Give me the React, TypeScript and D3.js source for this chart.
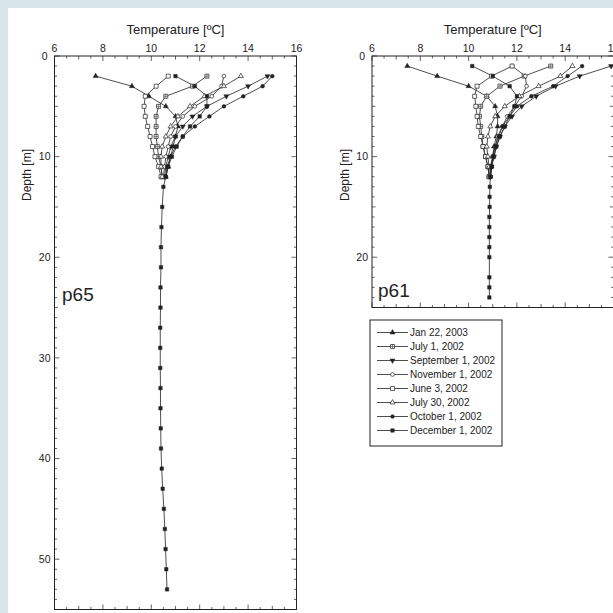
import React from "react";
import * as d3 from "d3";

// ---------- data ----------
const seriesNames = [
  "Jan 22, 2003",
  "July 1, 2002",
  "September 1, 2002",
  "November 1, 2002",
  "June 3, 2002",
  "July 30, 2002",
  "October 1, 2002",
  "December 1, 2002",
];
const seriesMarkers = [
  "triUpFilled",
  "squarePlus",
  "triDownFilled",
  "circleOpen",
  "squareOpen",
  "triUpOpen",
  "circleFilled",
  "squareFilled",
];

const tempTicks = [6, 8, 10, 12, 14, 16];
const p65DepthTicks = [0, 10, 20, 30, 40, 50];
const p61DepthTicks = [0, 10, 20];

// p65 profiles (depth 2..12 m)
const p65Depths = [2, 3, 4, 5, 6, 7, 8, 9, 10, 11, 12];
const p65Jan22 = [7.7, 9.2, 9.9, 10.6, 11.0, 11.1, 11.0, 10.9, 10.8, 10.7, 10.6];
const p65Jul1 = [12.3, 11.7, 10.6, 10.3, 10.2, 10.2, 10.2, 10.25, 10.3, 10.4, 10.45];
const p65Sep1 = [14.8, 14.0, 13.1, 12.3, 11.7, 11.3, 11.0, 10.8, 10.7, 10.6, 10.55];
const p65Nov1 = [13.0, 12.9, 12.5, 11.8, 11.3, 11.0, 10.8, 10.7, 10.6, 10.55, 10.5];
const p65Jun3 = [10.7, 10.2, 9.75, 9.7, 9.75, 9.85, 9.95, 10.05, 10.15, 10.3, 10.4];
const p65Jul30 = [13.7, 13.0, 12.2, 11.6, 11.1, 10.8, 10.6, 10.45, 10.4, 10.4, 10.45];
const p65Oct1 = [15.0, 14.6, 13.8, 13.0, 12.4, 11.8, 11.3, 11.0, 10.8, 10.65, 10.6];
const p65Dec1 = [11.0, 11.8, 12.3, 12.3, 12.0, 11.6, 11.3, 11.05, 10.85, 10.7, 10.6];
// December profile continues to the bottom (every 2 m)
const p65DeepDepths = [13, 15, 17, 19, 21, 23, 25, 27, 29, 31, 33, 35, 37, 39, 41, 43, 45, 47, 49, 51, 53];
const p65DeepTemps = [10.5, 10.45, 10.42, 10.4, 10.4, 10.38, 10.38, 10.37, 10.37, 10.37, 10.38, 10.38, 10.39, 10.4, 10.43, 10.47, 10.52, 10.56, 10.59, 10.62, 10.65];

// p61 profiles (depth 1..12 m)
const p61Depths = [1, 2, 3, 4, 5, 6, 7, 8, 9, 10, 11, 12];
const p61Jan22 = [7.46, 8.7, 10.0, 10.75, 11.1, 11.2, 11.2, 11.15, 11.05, 11.0, 10.95, 10.9];
const p61Jul1 = [13.4, 12.3, 11.3, 10.75, 10.5, 10.45, 10.5, 10.55, 10.6, 10.7, 10.8, 10.85];
const p61Sep1 = [15.9, 14.6, 13.6, 12.8, 12.2, 11.8, 11.5, 11.3, 11.15, 11.05, 10.95, 10.9];
const p61Nov1 = [11.8, 12.35, 12.4, 12.2, 11.9, 11.6, 11.4, 11.2, 11.1, 11.0, 10.9, 10.9];
const p61Jun3 = [11.8, 10.95, 10.35, 10.25, 10.3, 10.35, 10.4, 10.5, 10.6, 10.7, 10.8, 10.85];
const p61Jul30 = [14.3, 13.8, 12.9, 12.1, 11.5, 11.1, 10.9, 10.8, 10.75, 10.8, 10.85, 10.85];
const p61Oct1 = [14.7, 14.1, 13.5, 12.6, 12.0, 11.7, 11.4, 11.25, 11.1, 11.0, 10.95, 10.9];
const p61Dec1 = [10.15, 11.0, 11.7, 12.0, 11.9, 11.7, 11.5, 11.3, 11.15, 11.05, 10.95, 10.9];
const p61DeepDepths = [13, 14, 15, 16, 17, 18, 19, 20, 22, 23, 24];
const p61DeepTemps = [10.88, 10.87, 10.87, 10.86, 10.86, 10.86, 10.86, 10.86, 10.86, 10.86, 10.86];

// ---------- helpers ----------
type Pt = { t: number; d: number };
const zip = (ts: number[], ds: number[]): Pt[] => ts.map((t, i) => ({ t, d: ds[i] }));

const p65Series: Pt[][] = [
  zip(p65Jan22, p65Depths),
  zip(p65Jul1, p65Depths),
  zip(p65Sep1, p65Depths),
  zip(p65Nov1, p65Depths),
  zip(p65Jun3, p65Depths),
  zip(p65Jul30, p65Depths),
  zip(p65Oct1, p65Depths),
  zip(p65Dec1.concat(p65DeepTemps), p65Depths.concat(p65DeepDepths)),
];
const p61Series: Pt[][] = [
  zip(p61Jan22, p61Depths),
  zip(p61Jul1, p61Depths),
  zip(p61Sep1, p61Depths),
  zip(p61Nov1, p61Depths),
  zip(p61Jun3, p61Depths),
  zip(p61Jul30, p61Depths),
  zip(p61Oct1, p61Depths),
  zip(p61Dec1.concat(p61DeepTemps), p61Depths.concat(p61DeepDepths)),
];

const INK = "#222";
const FONT = "'Liberation Sans', Arial, Helvetica, sans-serif";

function Marker({ kind, x, y }: { kind: string; x: number; y: number }) {
  const tri = d3.symbol().type(d3.symbolTriangle).size(11)() as string;
  const sq = d3.symbol().type(d3.symbolSquare).size(12)() as string;
  const circ = d3.symbol().type(d3.symbolCircle).size(11)() as string;
  const sqBig = d3.symbol().type(d3.symbolSquare).size(16)() as string;
  switch (kind) {
    case "triUpFilled":
      return <path d={tri} transform={`translate(${x},${y})`} fill={INK} stroke={INK} strokeWidth={0.5} />;
    case "triDownFilled":
      return <path d={tri} transform={`translate(${x},${y}) rotate(180)`} fill={INK} stroke={INK} strokeWidth={0.5} />;
    case "triUpOpen":
      return <path d={tri} transform={`translate(${x},${y})`} fill="#fff" stroke={INK} strokeWidth={0.7} />;
    case "squareFilled":
      return <path d={sq} transform={`translate(${x},${y})`} fill={INK} stroke={INK} strokeWidth={0.5} />;
    case "squareOpen":
      return <path d={sqBig} transform={`translate(${x},${y})`} fill="#fff" stroke={INK} strokeWidth={0.7} />;
    case "squarePlus":
      return (
        <g transform={`translate(${x},${y})`}>
          <path d={sqBig} fill="#fff" stroke={INK} strokeWidth={0.7} />
          <path d="M-2,0H2M0,-2V2" stroke={INK} strokeWidth={0.5} />
        </g>
      );
    case "circleOpen":
      return <path d={circ} transform={`translate(${x},${y})`} fill="#fff" stroke={INK} strokeWidth={0.7} />;
    case "circleFilled":
    default:
      return <path d={circ} transform={`translate(${x},${y})`} fill={INK} stroke={INK} strokeWidth={0.5} />;
  }
}

type PanelProps = {
  x0: number;
  x1: number;
  y0: number;
  y1: number;
  dMax: number;
  depthTicks: number[];
  series: Pt[][];
  name: string;
  nameX: number;
  nameY: number;
  yLabelX: number;
};

function Panel(p: PanelProps) {
  const xs = d3.scaleLinear().domain([6, 16]).range([p.x0, p.x1]);
  const ys = d3.scaleLinear().domain([0, p.dMax]).range([p.y0, p.y1]);
  const line = d3
    .line<Pt>()
    .x((d) => xs(d.t))
    .y((d) => ys(d.d));

  const xMinor = d3.range(6, 16.001, 0.5);
  const yMinor = d3.range(0, p.dMax + 0.001, 1);

  const ticks: JSX.Element[] = [];
  xMinor.forEach((t, i) => {
    const major = Math.abs(t % 2) < 1e-6;
    const mid = !major && Math.abs(t % 1) < 1e-6;
    const len = major ? 5 : mid ? 3.5 : 2.5;
    const x = xs(t);
    ticks.push(<line key={`xt${i}`} x1={x} x2={x} y1={p.y0} y2={p.y0 + len} />);
    ticks.push(<line key={`xb${i}`} x1={x} x2={x} y1={p.y1} y2={p.y1 - len} />);
  });
  yMinor.forEach((d, i) => {
    const major = d % 10 === 0;
    const mid = !major && d % 5 === 0;
    const len = major ? 5 : mid ? 3.5 : 2.5;
    const y = ys(d);
    ticks.push(<line key={`yl${i}`} x1={p.x0} x2={p.x0 + len} y1={y} y2={y} />);
    ticks.push(<line key={`yr${i}`} x1={p.x1} x2={p.x1 - len} y1={y} y2={y} />);
  });

  return (
    <g>
      <rect x={p.x0} y={p.y0} width={p.x1 - p.x0} height={p.y1 - p.y0} fill="#fff" stroke={INK} strokeWidth={1} />
      <g stroke={INK} strokeWidth={0.7}>{ticks}</g>
      {tempTicks.map((t) => (
        <text key={`xl${t}`} x={xs(t)} y={p.y0 - 4} textAnchor="middle" fontSize={10.5} fill={INK} fontFamily={FONT}>
          {t}
        </text>
      ))}
      {p.depthTicks.map((d) => (
        <text
          key={`yl${d}`}
          x={d === 0 ? p.x0 - 7 : p.x0 - 4}
          y={ys(d)}
          dy="0.35em"
          textAnchor="end"
          fontSize={10.5}
          fill={INK}
          fontFamily={FONT}
        >
          {d}
        </text>
      ))}
      <text x={(p.x0 + p.x1) / 2} y={34} textAnchor="middle" fontSize={13} fill={INK} fontFamily={FONT}>
        Temperature [ºC]
      </text>
      <text
        transform={`translate(${p.yLabelX},175) rotate(-90)`}
        textAnchor="middle"
        dy="0.35em"
        fontSize={12}
        fill={INK}
        fontFamily={FONT}
      >
        Depth [m]
      </text>
      <text x={p.nameX} y={p.nameY} fontSize={19} fill={INK} fontFamily={FONT}>
        {p.name}
      </text>
      {p.series.map((s, i) => (
        <path key={`ln${i}`} d={line(s) as string} fill="none" stroke={INK} strokeWidth={0.8} />
      ))}
      {p.series.map((s, i) => (
        <g key={`mk${i}`}>
          {s.map((pt, j) => (
            <Marker key={j} kind={seriesMarkers[i]} x={xs(pt.t)} y={ys(pt.d)} />
          ))}
        </g>
      ))}
    </g>
  );
}

function Legend({ x, y, w, h }: { x: number; y: number; w: number; h: number }) {
  const rowY = d3.scalePoint<string>().domain(seriesNames).range([y + 12.5, y + h - 15.5]);
  return (
    <g>
      <rect x={x} y={y} width={w} height={h} fill="#fff" stroke={INK} strokeWidth={1} />
      {seriesNames.map((n, i) => {
        const yy = rowY(n) as number;
        return (
          <g key={n}>
            <line x1={x + 7} x2={x + 38} y1={yy} y2={yy} stroke={INK} strokeWidth={0.8} />
            <Marker kind={seriesMarkers[i]} x={x + 22.5} y={yy} />
            <text x={x + 40} y={yy} dy="0.35em" fontSize={10} fill={INK} fontFamily={FONT}>
              {n}
            </text>
          </g>
        );
      })}
    </g>
  );
}

export default function App() {
  return (
    <svg
      width={613}
      height={613}
      style={{ position: "fixed", left: 0, top: 0, display: "block" }}
      xmlns="http://www.w3.org/2000/svg"
    >
      <rect x={0} y={0} width={613} height={613} fill="#d8e5eb" />
      <rect x={8} y={8} width={605} height={605} fill="#fff" />
      <Panel
        x0={54.5}
        x1={296.5}
        y0={56}
        y1={609.5}
        dMax={55}
        depthTicks={p65DepthTicks}
        series={p65Series}
        name="p65"
        nameX={62}
        nameY={301}
        yLabelX={27}
      />
      <Panel
        x0={372}
        x1={613.5}
        y0={56}
        y1={307.5}
        dMax={25}
        depthTicks={p61DepthTicks}
        series={p61Series}
        name="p61"
        nameX={378}
        nameY={297}
        yLabelX={345}
      />
      <Legend x={370} y={320} w={132} h={126} />
    </svg>
  );
}
